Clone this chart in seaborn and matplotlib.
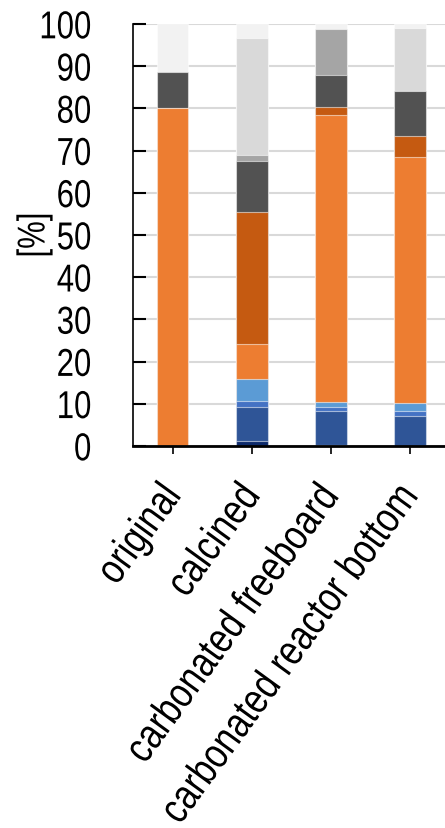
import numpy as np
import pandas as pd
import matplotlib
matplotlib.use("Agg")
import matplotlib.pyplot as plt
import seaborn as sns
from matplotlib.patheffects import AbstractPathEffect
from matplotlib.transforms import Affine2D

# Sample states along the x axis
samples = ["original", "calcined", "carbonated freeboard", "carbonated reactor bottom"]

# Phase fractions [%], listed from the bottom of each stack upwards
navy = [0.0, 1.1, 0.3, 0.0]
blue = [0.0, 8.1, 7.9, 7.2]
mid_blue = [0.0, 1.5, 1.1, 1.2]
light_blue = [0.0, 5.2, 1.2, 1.9]
orange = [80.0, 8.3, 67.9, 58.3]
dark_orange = [0.0, 31.2, 1.9, 4.8]
dark_gray = [8.7, 12.2, 7.7, 10.8]
mid_gray = [0.0, 1.4, 10.9, 0.0]
light_gray = [0.0, 27.7, 0.0, 14.9]
lightest_gray = [11.3, 3.3, 1.1, 0.9]

layers = [navy, blue, mid_blue, light_blue, orange, dark_orange,
          dark_gray, mid_gray, light_gray, lightest_gray]
colors = ["#0d2a6b", "#2f5597", "#4472c4", "#5b9bd5", "#ed7d31", "#c55a11",
          "#525252", "#a5a5a5", "#d9d9d9", "#f2f2f2"]

y_ticks = list(range(0, 101, 10))


class Tall(AbstractPathEffect):
    """Stretch glyphs perpendicular to the baseline, giving a narrow-font look.

    The scaling is centred on the middle of the line box, so the text keeps
    its alignment while its advance width stays that of the set font size.
    """

    def __init__(self, sy, y0=34.65):
        super().__init__()
        self.sy = sy
        self.y0 = y0

    def draw_path(self, renderer, gc, tpath, affine, rgbFace=None):
        tall = Affine2D().translate(0, -self.y0).scale(1, self.sy).translate(0, self.y0)
        renderer.draw_path(gc, tpath, tall + affine, rgbFace)


sns.set_theme(style="white")
plt.rcParams["font.family"] = ["Liberation Sans", "DejaVu Sans"]

fig = plt.figure(figsize=(4.45, 8.29), dpi=100)
ax = fig.add_axes([0.299, 0.4608, 0.701, 0.509])

# Stack by drawing cumulative totals from the top layer down
cum = np.cumsum(np.array(layers), axis=0)
for i in range(len(layers) - 1, -1, -1):
    df = pd.DataFrame({"sample": samples, "value": cum[i]})
    sns.barplot(data=df, x="sample", y="value", order=samples, color=colors[i],
                width=0.4, errorbar=None, saturation=1, ax=ax,
                edgecolor=(1, 1, 1, 0.55), linewidth=0.8, zorder=2)

ax.set_xlim(-0.5, 3.443)
ax.set_ylim(0, 100)
ax.set_yticks(y_ticks)
ax.set_yticklabels([str(t) for t in y_ticks])
ax.yaxis.grid(True, color="#d9d9d9", linewidth=1.5, zorder=0)
ax.set_axisbelow(True)

for side in ["top", "right"]:
    ax.spines[side].set_visible(False)
ax.spines["left"].set_color("black")
ax.spines["left"].set_linewidth(1.2)
ax.spines["bottom"].set_color("black")
ax.spines["bottom"].set_linewidth(2)

ax.tick_params(axis="y", direction="in", length=9.5, width=1.5, color="black",
               pad=30, labelsize=22.4, labelcolor="black", left=True)
ax.tick_params(axis="x", direction="out", length=6, width=1.2, color="black",
               pad=24.5, labelsize=25.0, labelcolor="black", bottom=True)
for lab in ax.get_xticklabels():
    lab.set_rotation(54)
    lab.set_ha("right")
    lab.set_va("center")
    lab.set_rotation_mode("anchor")
    lab.set_path_effects([Tall(1 / 0.82)])
for lab in ax.get_yticklabels():
    lab.set_path_effects([Tall(1 / 0.80, y0=35.8)])

ax.set_xlabel("")
ax.set_ylabel("[%]", fontsize=22.4, color="black")
ax.yaxis.set_label_coords(-0.27, 0.5)
ax.yaxis.label.set_path_effects([Tall(1 / 0.80)])

fig.savefig("out.png", dpi=100)
